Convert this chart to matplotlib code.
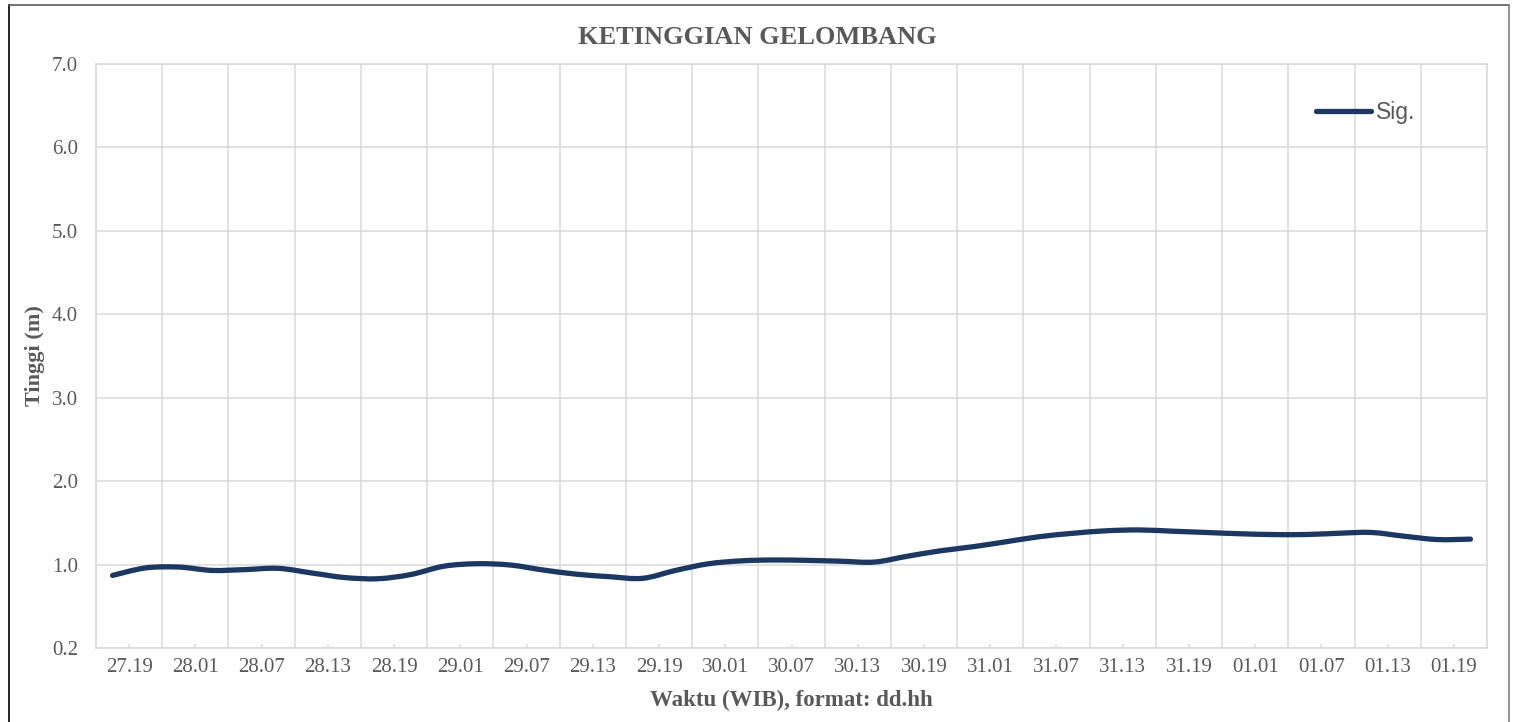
import numpy as np
import matplotlib
matplotlib.use("Agg")
import matplotlib.pyplot as plt
from matplotlib.path import Path
from matplotlib.patches import PathPatch
from matplotlib.lines import Line2D

# tick labels (every 6 hours), data every 3 hours starting 27.19
tick_labels = ["27.19", "28.01", "28.07", "28.13", "28.19", "29.01", "29.07",
               "29.13", "29.19", "30.01", "30.07", "30.13", "30.19", "31.01",
               "31.07", "31.13", "31.19", "01.01", "01.07", "01.13", "01.19"]
y_labels = ["0.2", "1.0", "2.0", "3.0", "4.0", "5.0", "6.0", "7.0"]

# significant wave height (m)
sig = [0.87, 0.96, 0.97, 0.93, 0.94, 0.955, 0.90, 0.845, 0.83, 0.88,
       0.98, 1.01, 0.995, 0.935, 0.885, 0.855, 0.835, 0.93, 1.01, 1.045,
       1.055, 1.05, 1.04, 1.03, 1.10, 1.165, 1.215, 1.275, 1.335, 1.375,
       1.405, 1.415, 1.40, 1.385, 1.37, 1.36, 1.36, 1.375, 1.385, 1.34,
       1.30, 1.305]

line_color = "#1c3862"
text_color = "#595959"
grid_color = "#d9d9d9"
serif = "Liberation Serif"


def smooth_path(x, y):
    """Excel-like smoothed line: cubic bezier through every point."""
    pts = np.column_stack([x, y])
    n = len(pts)
    verts = [pts[0]]
    codes = [Path.MOVETO]
    for i in range(n - 1):
        p0 = pts[max(i - 1, 0)]
        p1 = pts[i]
        p2 = pts[i + 1]
        p3 = pts[min(i + 2, n - 1)]
        c1 = p1 + (p2 - p0) / 6
        c2 = p2 - (p3 - p1) / 6
        verts += [c1, c2, p2]
        codes += [Path.CURVE4] * 3
    return Path(verts, codes)


fig = plt.figure(figsize=(15.19, 7.22), dpi=100)
ax = fig.add_axes([96 / 1519, 1 - 648 / 722, 1391 / 1519, 584 / 722])

x = np.arange(len(sig))
ax.add_patch(PathPatch(smooth_path(x, np.array(sig)), fill=False,
                       edgecolor=line_color, lw=3.8, capstyle="round",
                       joinstyle="round", zorder=3))

ax.set_xlim(-0.5, len(sig) - 0.5)
ax.set_ylim(0, 7)

ax.set_xticks(np.arange(-0.5, len(sig), 2))
ax.set_xticks(np.arange(0.5, len(sig), 2), minor=True)
ax.set_xticklabels([])
ax.set_xticklabels(tick_labels, minor=True)
ax.tick_params(axis="x", which="major", length=0)
ax.tick_params(axis="x", which="minor", direction="in", length=3,
               color=grid_color, width=1.1, pad=7, labelsize=15,
               labelcolor=text_color)

ax.set_yticks(np.arange(0, 8))
ax.set_yticklabels(y_labels)
ax.tick_params(axis="y", length=0, pad=13, labelsize=15, labelcolor=text_color)

for lab in ax.get_xticklabels(minor=True) + ax.get_yticklabels():
    lab.set_fontfamily(serif)

ax.grid(True, which="major", color=grid_color, lw=1.1, zorder=0)
for s in ax.spines.values():
    s.set_color(grid_color)
    s.set_linewidth(1.1)

ax.set_xlabel("Waktu (WIB), format: dd.hh", fontsize=16.5, fontweight="bold",
              color=text_color, family=serif, va="center")
ax.xaxis.set_label_coords(0.5, -0.089)
ax.set_ylabel("Tinggi (m)", fontsize=16, fontweight="bold",
              color=text_color, family=serif, va="center")
ax.yaxis.set_label_coords(-0.044, 0.5)

fig.text(0.4987, 1 - 38 / 722, "KETINGGIAN GELOMBANG", fontsize=19,
         fontweight="bold", color=text_color, family=serif,
         ha="center", va="center")

handle = Line2D([], [], color=line_color, lw=3.8, solid_capstyle="round")
ax.legend([handle], ["Sig."], loc="center left",
          bbox_to_anchor=((1316 - 96) / 1391, (648 - 113) / 584),
          frameon=False, borderpad=0, borderaxespad=0, handlelength=2.4,
          handletextpad=0.2, prop={"family": "Liberation Sans", "size": 16.5},
          labelcolor=text_color)

# chart border
fig.add_artist(Line2D([9 / 1519, 9 / 1519], [0, 1 - 5 / 722],
                      transform=fig.transFigure, color="#000000", lw=1.2))
fig.add_artist(Line2D([9 / 1519, 1509 / 1519], [1 - 5 / 722, 1 - 5 / 722],
                      transform=fig.transFigure, color="#595959", lw=1.2))
fig.add_artist(Line2D([1509 / 1519, 1509 / 1519], [0, 1 - 5 / 722],
                      transform=fig.transFigure, color="#7f7f7f", lw=1.2))

fig.savefig("out.png", dpi=100)
